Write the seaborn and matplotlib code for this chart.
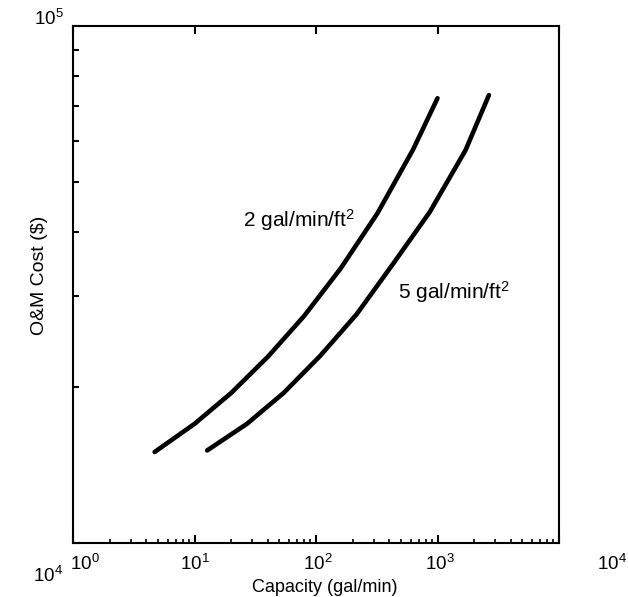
import numpy as np
import pandas as pd
import matplotlib
matplotlib.use('Agg')
import matplotlib.pyplot as plt
import matplotlib.ticker as mticker
from matplotlib.transforms import ScaledTranslation
import seaborn as sns

# curves: capacity (gal/min) vs O&M cost ($)
cap_2 = [4.7, 10, 20, 40, 80, 160, 320, 630, 1000]
cost_2 = [15000, 17000, 19500, 22900, 27500, 34000, 43400, 57700, 72500]

cap_5 = [12.7, 27, 54, 108, 216, 432, 865, 1700, 2650]
cost_5 = [15100, 17000, 19500, 23000, 27700, 34700, 43700, 57500, 73500]

x_ticks = [1, 10, 100, 1000, 10000]
x_ticklabels = ['$10^0$', '$10^1$', '$10^2$', '$10^3$', '$10^4$']
y_ticks = [1e4, 1e5]
y_ticklabels = ['$10^4$', '$10^5$']

df = pd.concat([
    pd.DataFrame({'cap': cap_2, 'cost': cost_2, 'rate': '2 gal/min/ft2'}),
    pd.DataFrame({'cap': cap_5, 'cost': cost_5, 'rate': '5 gal/min/ft2'}),
])

sns.set_style('ticks')
plt.rcParams['font.family'] = ['Liberation Sans', 'DejaVu Sans']
plt.rcParams['mathtext.fontset'] = 'custom'
plt.rcParams['mathtext.rm'] = 'Liberation Sans'
plt.rcParams['mathtext.it'] = 'Liberation Sans'
plt.rcParams['text.color'] = 'black'
plt.rcParams['axes.labelcolor'] = 'black'

fig = plt.figure(figsize=(6.28, 5.97), dpi=100)
ax = fig.add_axes([73 / 628, 1 - 543 / 597, (559 - 73) / 628, (543 - 26) / 597])

sns.lineplot(data=df, x='cap', y='cost', hue='rate', palette=['black', 'black'],
             linewidth=3.3, legend=False, ax=ax, sort=False)
for ln in ax.get_lines():
    ln.set_solid_capstyle('round')
    ln.set_solid_joinstyle('round')

ax.set_xscale('log')
ax.set_yscale('log')
ax.set_xlim(1, 1e4)
ax.set_ylim(1e4, 1e5)

ax.xaxis.set_major_locator(mticker.FixedLocator(x_ticks))
ax.xaxis.set_minor_locator(mticker.LogLocator(base=10, subs=np.arange(2, 10)))
ax.yaxis.set_major_locator(mticker.FixedLocator(y_ticks))
ax.yaxis.set_minor_locator(mticker.LogLocator(base=10, subs=np.arange(2, 10)))
ax.set_xticklabels(x_ticklabels)
ax.set_yticklabels(y_ticklabels)
ax.yaxis.set_minor_formatter(mticker.NullFormatter())
ax.xaxis.set_minor_formatter(mticker.NullFormatter())

for s in ax.spines.values():
    s.set_linewidth(1.5)
    s.set_color('black')

ax.tick_params(axis='x', which='major', direction='in', length=6, width=1.5,
               top=True, bottom=True, labelsize=13.5, pad=8, colors='black')
ax.tick_params(axis='x', which='minor', direction='in', length=3, width=1.2,
               top=False, bottom=True, colors='black')
ax.tick_params(axis='y', which='major', direction='in', length=5, width=1.5,
               left=True, right=False, labelsize=13.5, pad=7, colors='black')
ax.tick_params(axis='y', which='minor', direction='in', length=4, width=1.5,
               left=True, right=False, colors='black')

# the scan has the end labels pushed out from the corners
x_shift = [12, 0, 2, 2, 53]
for tick, dx in zip(ax.xaxis.get_major_ticks(), x_shift):
    lab = tick.label1
    lab.set_transform(lab.get_transform() + ScaledTranslation(dx / 100, 0, fig.dpi_scale_trans))
y_shift = [-31, 9]
for tick, dy in zip(ax.yaxis.get_major_ticks(), y_shift):
    lab = tick.label1
    lab.set_transform(lab.get_transform() + ScaledTranslation(0, dy / 100, fig.dpi_scale_trans))

ax.set_xlabel('Capacity (gal/min)', fontsize=13)
ax.set_ylabel('O&M Cost ($)', fontsize=14)
ax.xaxis.set_label_coords(0.519, -0.070)
ax.yaxis.set_label_coords(-0.051, 0.518)

ax.text(25.1, 4.22e4, '2 gal/min/ft$^2$', fontsize=15, va='center', ha='left')
ax.text(473, 3.06e4, '5 gal/min/ft$^2$', fontsize=15, va='center', ha='left')

fig.savefig('out.png', dpi=100, facecolor='white')
